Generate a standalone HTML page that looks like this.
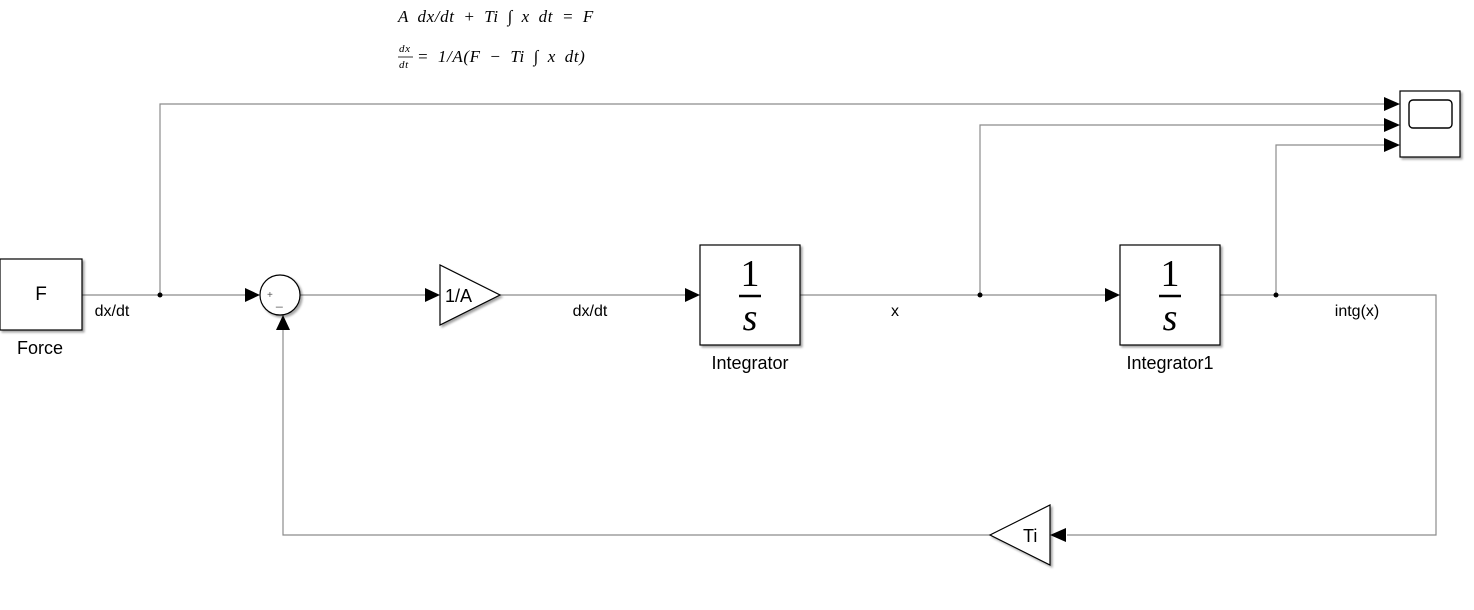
<!DOCTYPE html>
<html><head><meta charset="utf-8"><style>
html,body{margin:0;padding:0;background:#fff;}
svg{display:block;font-family:"Liberation Sans",sans-serif;}
.w{stroke:#8c8c8c;stroke-width:1.2;fill:none}
.b{stroke:#000;stroke-width:1.2;fill:#fff}
.eq{font-family:"Liberation Serif",serif;font-style:italic;font-size:17px;word-spacing:4px;letter-spacing:0.6px}
</style></head><body>
<svg width="1474" height="610" viewBox="0 0 1474 610">
<defs><filter id="sh" x="-10%" y="-10%" width="130%" height="130%"><feDropShadow dx="2" dy="2" stdDeviation="1" flood-color="#000" flood-opacity="0.35"/></filter></defs>
<text class="eq" x="398" y="22">A dx/dt  +  Ti ∫ x dt  =  F</text>
<g>
<text class="eq" x="399" y="52" font-size="11" style="font-size:11px">dx</text><line x1="398" y1="57" x2="413" y2="57" stroke="#000" stroke-width="0.8"/><text class="eq" x="399" y="68" style="font-size:11px">dt</text>
<text class="eq" x="417" y="62">= 1/A(F −  Ti  ∫ x dt)</text></g>
<g>
<path class="w" d="M82 295H247M160 295V104H1386M300 295H427M500 295H687M800 295H1107M980 295V125H1386M1220 295H1436V535H1067M990 535H283V318M1276 295V145H1386"/>
<circle cx="160" cy="295" r="2.5" fill="#000"/><circle cx="980" cy="295" r="2.5" fill="#000"/><circle cx="1276" cy="295" r="2.5" fill="#000"/>
</g>
<g fill="#000">
<path d="M245 288L260 295L245 302Z"/><path d="M425 288L440 295L425 302Z"/><path d="M685 288L700 295L685 302Z"/><path d="M1105 288L1120 295L1105 302Z"/>
<path d="M1384 97L1400 104L1384 111Z"/><path d="M1384 118L1400 125L1384 132Z"/><path d="M1384 138L1400 145L1384 152Z"/>
<path d="M1066 528L1050 535L1066 542Z"/><path d="M276 330L283 315L290 330Z"/>
</g>
<g><rect class="b" x="0" y="259" width="82" height="71" filter="url(#sh)"/><text x="41" y="300" font-size="19" text-anchor="middle">F</text><text x="40" y="354" font-size="18" text-anchor="middle">Force</text></g>
<g><circle class="b" cx="280" cy="295" r="20" filter="url(#sh)"/><text x="267" y="298" font-size="10" fill="#555">+</text><text x="276" y="305" font-size="12" fill="#555">_</text></g>
<g><path class="b" d="M440 265L440 325L500 295Z" filter="url(#sh)"/><text x="445" y="302" font-size="18">1/A</text></g>
<g><rect class="b" x="700" y="245" width="100" height="100" filter="url(#sh)"/><text x="750" y="286" font-size="38" text-anchor="middle" font-family="Liberation Serif">1</text><line x1="739" y1="296" x2="761" y2="296" stroke="#000" stroke-width="2.5"/><text x="750" y="330" font-size="38" text-anchor="middle" font-family="Liberation Serif" font-style="italic">s</text><text x="750" y="369" font-size="18" text-anchor="middle">Integrator</text></g>
<g><rect class="b" x="1120" y="245" width="100" height="100" filter="url(#sh)"/><text x="1170" y="286" font-size="38" text-anchor="middle" font-family="Liberation Serif">1</text><line x1="1159" y1="296" x2="1181" y2="296" stroke="#000" stroke-width="2.5"/><text x="1170" y="330" font-size="38" text-anchor="middle" font-family="Liberation Serif" font-style="italic">s</text><text x="1170" y="369" font-size="18" text-anchor="middle">Integrator1</text></g>
<g><path class="b" d="M1050 505L1050 565L990 535Z" filter="url(#sh)"/><text x="1023" y="542" font-size="18">Ti</text></g>
<g><rect class="b" x="1400" y="91" width="60" height="66" filter="url(#sh)"/><rect x="1409" y="100" width="43" height="28" rx="4" fill="#fff" stroke="#000" stroke-width="1.4"/></g>
<text x="112" y="316" font-size="16" text-anchor="middle">dx/dt</text>
<text x="590" y="316" font-size="16" text-anchor="middle">dx/dt</text>
<text x="895" y="316" font-size="16" text-anchor="middle">x</text>
<text x="1357" y="316" font-size="16" text-anchor="middle">intg(x)</text>
</svg>
</body></html>
